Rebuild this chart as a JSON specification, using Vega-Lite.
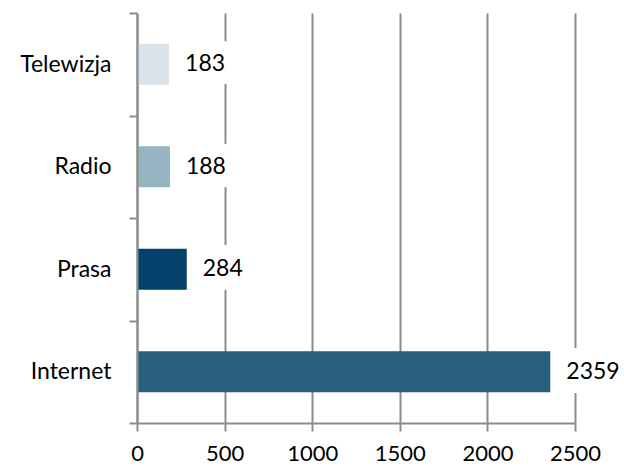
{
  "$schema": "https://vega.github.io/schema/vega-lite/v6.json",
  "width": 438,
  "height": 410,
  "autosize": "none",
  "padding": {"left": 137, "top": 13, "right": 49, "bottom": 45},
  "background": "white",
  "config": {"view": {"stroke": null}, "font": "Lato"},
  "data": {"values": [
    {"medium": "Telewizja", "value": 183},
    {"medium": "Radio", "value": 188},
    {"medium": "Prasa", "value": 284},
    {"medium": "Internet", "value": 2359}
  ]},
  "encoding": {
    "y": {
      "field": "medium", "type": "nominal", "sort": null,
      "scale": {"paddingInner": 0, "paddingOuter": 0},
      "axis": {
        "title": null, "tickBand": "extent", "tickSize": 8, "tickWidth": 2,
        "tickColor": "#8c8c8c", "domainColor": "#8c8c8c", "domainWidth": 2,
        "labelFontSize": 23, "labelColor": "#000000", "labelPadding": 18,
        "labelFont": "Lato", "grid": false, "zindex": 1
      }
    },
    "x": {
      "field": "value", "type": "quantitative",
      "scale": {"domain": [0, 2500], "nice": false},
      "axis": {
        "title": null, "values": [0, 500, 1000, 1500, 2000, 2500], "format": "d",
        "grid": true, "gridColor": "#8c8c8c", "gridWidth": 2,
        "tickSize": 8, "tickWidth": 2, "tickColor": "#8c8c8c",
        "domainColor": "#8c8c8c", "domainWidth": 2,
        "labelFontSize": 22, "labelColor": "#000000", "labelPadding": 12,
        "labelFont": "Lato", "labelFlush": false
      }
    }
  },
  "layer": [
    {
      "mark": {"type": "bar", "height": {"band": 0.4}},
      "encoding": {
        "color": {
          "field": "medium", "type": "nominal", "legend": null,
          "scale": {
            "domain": ["Telewizja", "Radio", "Prasa", "Internet"],
            "range": ["#dce4eb", "#97b4c2", "#04416a", "#275f7c"]
          }
        }
      }
    },
    {
      "mark": {"type": "text", "align": "left", "baseline": "middle", "dx": 16, "fontSize": 23,
               "stroke": "white", "strokeWidth": 28, "strokeJoin": "round", "fill": "white"},
      "encoding": {"text": {"field": "value", "type": "quantitative"}}
    },
    {
      "mark": {"type": "text", "align": "left", "baseline": "middle", "dx": 16, "fontSize": 23, "color": "#000000"},
      "encoding": {"text": {"field": "value", "type": "quantitative"}}
    }
  ]
}
